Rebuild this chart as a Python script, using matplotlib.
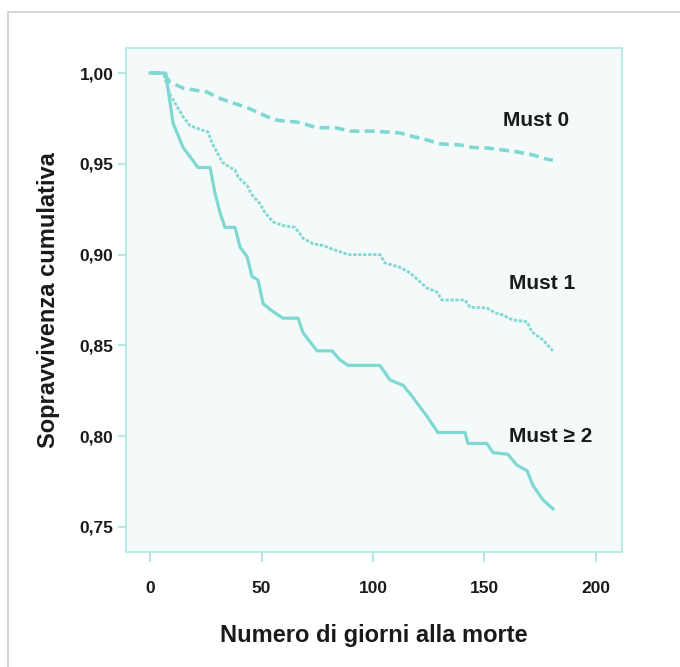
import matplotlib
matplotlib.use("Agg")
import matplotlib.pyplot as plt
from matplotlib.patches import Rectangle

# ---- data ----
must0_days = [0, 5.8, 9, 14.8, 25.6, 31.4, 37.2, 43.5, 48, 52.5, 57, 65.9, 74.9, 83.9, 89.7, 100, 106.3, 112.1, 118.8, 124.7, 130, 139, 144.8, 151.6, 158.3, 165, 171.3, 178, 180.7]
must0_surv = [1.0, 1.0, 0.995, 0.9917, 0.9895, 0.986, 0.9835, 0.981, 0.9785, 0.976, 0.974, 0.973, 0.970, 0.9697, 0.968, 0.968, 0.9675, 0.967, 0.9648, 0.963, 0.961, 0.9604, 0.959, 0.9587, 0.9576, 0.9565, 0.955, 0.9526, 0.952]

must1_days = [0, 6, 9, 11.2, 14.8, 17.9, 22.4, 26.0, 27.8, 30.0, 32.3, 35.9, 38.1, 39.5, 43.5, 45.7, 49.3, 51.6, 55.2, 59.6, 65.0, 68.6, 73.1, 77.6, 83.0, 86.5, 88.8, 103.1, 105.4, 112.1, 116.6, 121.1, 124.2, 128.7, 130.9, 141.3, 143.5, 151.1, 154.7, 158.3, 162.8, 169.1, 171.3, 176.2, 180.7]
must1_surv = [1.0, 1.0, 0.988, 0.9835, 0.976, 0.971, 0.969, 0.9675, 0.9615, 0.9565, 0.951, 0.948, 0.9466, 0.9427, 0.938, 0.933, 0.928, 0.923, 0.918, 0.916, 0.915, 0.909, 0.906, 0.905, 0.9025, 0.901, 0.900, 0.900, 0.8954, 0.893, 0.890, 0.885, 0.8816, 0.8794, 0.875, 0.875, 0.871, 0.8706, 0.868, 0.8667, 0.864, 0.863, 0.8574, 0.853, 0.847]

must2_days = [0, 7, 10.3, 14.8, 17.9, 21.5, 26.9, 29.1, 31.4, 33.6, 38.1, 40.4, 43.5, 45.7, 48.4, 50.7, 54.7, 59.6, 66.4, 68.6, 74.9, 81.6, 85.2, 88.8, 103.1, 107.6, 113.5, 117.5, 121.1, 124.2, 129.1, 141.3, 142.6, 151.1, 153.8, 160.5, 164.6, 169.1, 171.7, 176.2, 180.7]
must2_surv = [1.0, 1.0, 0.9725, 0.959, 0.954, 0.948, 0.948, 0.934, 0.923, 0.915, 0.915, 0.904, 0.899, 0.888, 0.886, 0.873, 0.869, 0.865, 0.865, 0.857, 0.847, 0.847, 0.842, 0.839, 0.839, 0.831, 0.828, 0.822, 0.816, 0.811, 0.802, 0.802, 0.796, 0.796, 0.791, 0.790, 0.784, 0.781, 0.773, 0.765, 0.760]

x_ticks = [0, 50, 100, 150, 200]
y_ticks = [0.75, 0.80, 0.85, 0.90, 0.95, 1.00]
y_tick_labels = ["0,75", "0,80", "0,85", "0,90", "0,95", "1,00"]
labels = ["Must 0", "Must 1", "Must \u2265 2"]
label_pos = [(158.5, 0.974), (161, 0.884), (161, 0.800)]

FONT = ["Liberation Sans Narrow", "Liberation Sans", "DejaVu Sans"]
plt.rcParams["font.family"] = FONT

teal = "#7fd9d2"
spine_col = "#b3e9e5"

fig = plt.figure(figsize=(6.8, 6.67), dpi=100)
fig.patch.set_facecolor("white")

# outer light-gray frame (cropped at right/bottom)
fig.patches.append(Rectangle((8 / 680, -0.05), 1.0, 1 - 12 / 667 + 0.05,
                             transform=fig.transFigure, fill=False,
                             edgecolor="#cfcfcf", linewidth=1.2))

ax = fig.add_axes([126 / 680, 1 - 552 / 667, 496 / 680, 504 / 667])
ax.set_facecolor("#f4fafa")

ax.plot(must0_days, must0_surv, color=teal, lw=2.6,
        linestyle=(0, (2.7, 1.5)))
ax.plot(must1_days, must1_surv, color=teal, lw=2.0,
        linestyle=(0, (1.2, 0.6)))
ax.plot(must2_days, must2_surv, color=teal, lw=2.3)

for (tx, ty), lab in zip(label_pos, labels):
    ax.text(tx, ty, lab, fontsize=15, fontweight="bold", color="#1a1a1a",
            va="center", ha="left")

ax.set_xlim(-10.8, 211.7)
ax.set_ylim(0.7362, 1.0138)
ax.set_xticks(x_ticks)
ax.set_xticklabels([str(t) for t in x_ticks])
ax.set_yticks(y_ticks)
ax.set_yticklabels(y_tick_labels)

for s in ax.spines.values():
    s.set_color(spine_col)
    s.set_linewidth(1.3)

ax.tick_params(axis="x", direction="out", length=7, width=1.5, color=spine_col,
               pad=14, labelsize=12.5)
ax.tick_params(axis="y", direction="out", length=6, width=1.5, color=spine_col,
               pad=3, labelsize=12.5)
for lab in ax.get_xticklabels() + ax.get_yticklabels():
    lab.set_fontweight("bold")
    lab.set_color("#1a1a1a")

ax.set_xlabel("Numero di giorni alla morte", fontsize=17, fontweight="bold",
              color="#1a1a1a", labelpad=20)
ax.set_ylabel("Sopravvivenza cumulativa", fontsize=17, fontweight="bold",
              color="#1a1a1a", labelpad=14)

fig.savefig("out.png", dpi=100)
